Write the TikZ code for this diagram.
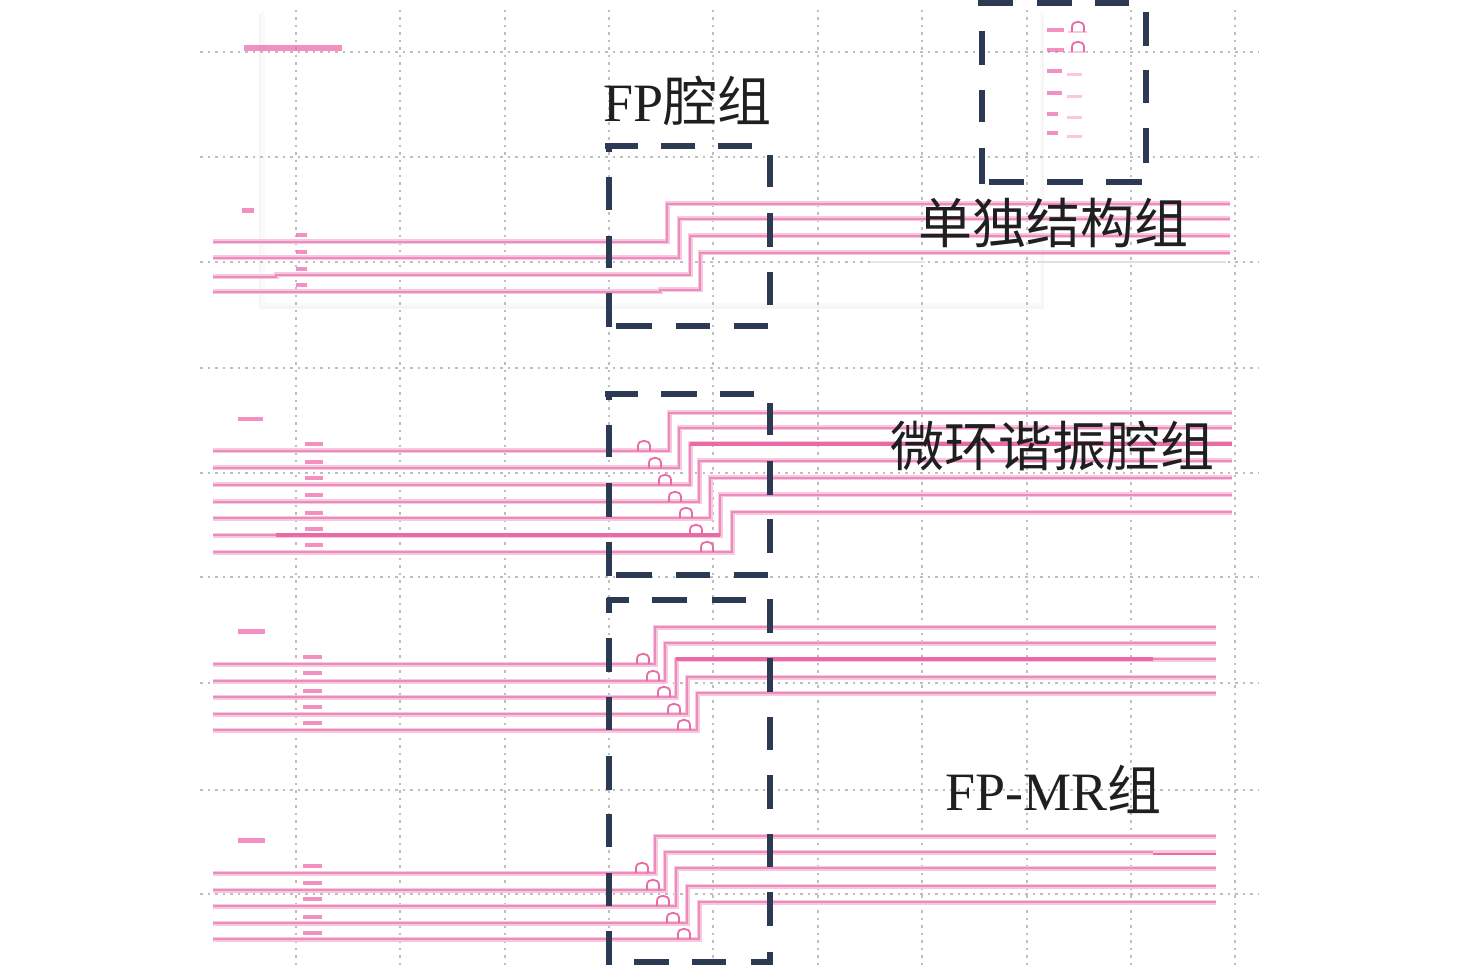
\documentclass[tikz,border=0pt]{standalone}
\usepackage{fontspec}
\setmainfont{Liberation Serif}
\newfontfamily\cjk{Noto Sans CJK SC}
\definecolor{pinkcore}{RGB}{236,140,188}
\definecolor{pinkhalo}{RGB}{248,200,222}
\definecolor{pinkdark}{RGB}{232,106,166}
\definecolor{pinklab}{RGB}{238,96,168}
\definecolor{navy}{RGB}{44,58,84}
\definecolor{gridc}{RGB}{190,190,190}
\tikzset{
  wg/.style={draw=pinkcore, line width=2.8pt, preaction={draw=pinkhalo, line width=5pt}},
  wgdark/.style={draw=pinkdark, line width=3.2pt},
  ringmark/.style={draw=pinkdark, line width=1.8pt},
  dbox/.style={draw=navy, line width=5.6pt, line cap=butt},
  gridline/.style={draw=gridc, line width=1.5pt, dash pattern=on 2.5pt off 5pt},
  tinylab/.style={fill=pinklab, opacity=0.7},
  lab/.style={font=\fontsize{54}{60}\selectfont, inner sep=0pt, text=black!88}
}
\newcommand{\ringarch}[2]{%
  \draw[ringmark] (#1-6,#2) -- (#1-6,#2-5) .. controls (#1-6,#2-12) and (#1+6,#2-12) .. (#1+6,#2-5) -- (#1+6,#2);}
\begin{document}
\begin{tikzpicture}[x=1pt,y=-1pt]
\useasboundingbox (0,0) rectangle (1476,965);
\fill[white] (0,0) rectangle (1476,965);
% panel with faint shadow
\fill[black!4] (259,14) rectangle (1044,309);
\fill[black!2] (261,12) rectangle (1042,306);
\fill[white] (265,10) rectangle (1040,303);
% grid
\foreach \gy in {52,157,262,368,473,577,683,790,894}
  \draw[gridline] (200,\gy) -- (1258,\gy);
\foreach \gx in {296,400,505,609,713,818,922,1027,1131,1235}
  \draw[gridline] (\gx,10) -- (\gx,965);
% faint selection line
\draw[black!12, line width=1.5pt] (1037,262) -- (1226,262);
\draw[black!10, line width=1.5pt] (870,262) -- (925,262);

% tiny labels
\fill[tinylab] (244,45) rectangle (342,51);
\fill[tinylab] (242,208) rectangle (254,213);
\foreach \ly in {235,252,269,285} \fill[tinylab] (296,\ly-2) rectangle (307,\ly+2);
\fill[tinylab] (238,417) rectangle (263,421);
\foreach \ly in {444,462,478,495,513,529,545} \fill[tinylab] (305,\ly-2) rectangle (323,\ly+2);
\fill[tinylab] (238,629) rectangle (265,634);
\foreach \ly in {657,673,691,707,723} \fill[tinylab] (303,\ly-2) rectangle (322,\ly+2);
\fill[tinylab] (238,838) rectangle (265,843);
\foreach \ly in {866,883,899,917,933} \fill[tinylab] (303,\ly-2) rectangle (322,\ly+2);
% top-right legend
\foreach \ly in {30,50} {
  \fill[tinylab] (1047,\ly-2) rectangle (1064,\ly+2);
  \draw[pinkhalo, line width=2.5pt] (1068,\ly+2) -- (1087,\ly+2);
  \ringarch{1078}{\ly+2}
}
\foreach \ly/\lw in {71/15,93/15,114/11,133/11} {
  \fill[tinylab] (1047,\ly-2) rectangle (1047+\lw,\ly+2);
  \draw[pinkhalo, line width=3pt] (1067,\ly+4) -- (1082,\ly+4);
}

% ---- group 1: FP
\draw[wg] (213,242) -- (667,242) -- (667,204) -- (1230,204);
\draw[wg] (213,258) -- (679,258) -- (679,219) -- (1230,219);
\draw[wg] (213,277) -- (276,277) -- (276,275) -- (690,275) -- (690,236) -- (1230,236);
\draw[wg] (213,292) -- (660,292) -- (660,290) -- (700,290) -- (700,253) -- (1230,253);

% ---- group 2: Ring
\foreach \yl/\xs/\yr/\xr in {451/669/413/644, 468/679/428/655, 485/690/444/665, 502/699/461/675, 518/710/478/686, 535/720/495/696, 552/732/512/707} {
  \draw[wg] (213,\yl) -- (\xs,\yl) -- (\xs,\yr) -- (1232,\yr);
  \ringarch{\xr}{\yl}
}
\draw[wgdark] (276,535) -- (720,535);
\draw[wgdark] (690,444) -- (1232,444);

% ---- group 3: TRLB
\foreach \yl/\xs/\yr/\xr in {664/655/627/643, 681/665/643/653, 697/676/659/664, 714/687/677/674, 730/697/693/684} {
  \draw[wg] (213,\yl) -- (\xs,\yl) -- (\xs,\yr) -- (1216,\yr);
  \ringarch{\xr}{\yl}
}
\draw[wgdark] (676,659) -- (1153,659);

% ---- group 4: FP-MR
\foreach \yl/\xs/\yr/\xr in {873/655/836/642, 890/665/852/653, 906/676/868/663, 923/687/886/673, 939/699/902/684} {
  \draw[wg] (213,\yl) -- (\xs,\yl) -- (\xs,\yr) -- (1216,\yr);
  \ringarch{\xr}{\yl}
}
\draw[pinkhalo, line width=3pt] (1153,852) -- (1216,852);
\draw[pinkdark, line width=2.4pt] (1153,854) -- (1216,854);

% ---- dashed boxes
% box 1
\foreach \a/\b in {605/638,661/695,718/752} \draw[dbox] (\a,146) -- (\b,146);
\foreach \a/\b in {144/152,177/210,236/268,293/327} \draw[dbox] (609,\a) -- (609,\b);
\foreach \a/\b in {155/187,213/247,272/305} \draw[dbox] (770,\a) -- (770,\b);
\foreach \a/\b in {616/652,676/710,734/768} \draw[dbox] (\a,326) -- (\b,326);
% box 2
\foreach \a/\b in {605/638,661/697,720/754} \draw[dbox] (\a,394) -- (\b,394);
\foreach \a/\b in {392/400,425/457,483/517,542/576} \draw[dbox] (609,\a) -- (609,\b);
\foreach \a/\b in {403/435,461/495,519/553} \draw[dbox] (770,\a) -- (770,\b);
\foreach \a/\b in {616/652,676/710,734/768} \draw[dbox] (\a,575) -- (\b,575);
% box 3
\foreach \a/\b in {607/629,652/687,712/746} \draw[dbox] (\a,600) -- (\b,600);
\foreach \a/\b in {598/613,638/672,697/730,756/790,814/847,873/906,931/967} \draw[dbox] (609,\a) -- (609,\b);
\foreach \a/\b in {599/633,658/692,717/750,775/809,834/867,892/926,952/967} \draw[dbox] (770,\a) -- (770,\b);
\foreach \a/\b in {634/669,692/726,751/772} \draw[dbox] (\a,962) -- (\b,962);
% box 4 (top right)
\foreach \a/\b in {978/1013,1037/1072,1095/1129} \draw[dbox] (\a,3) -- (\b,3);
\foreach \a/\b in {31/65,90/122,148/184} \draw[dbox] (982,\a) -- (982,\b);
\foreach \a/\b in {12/46,70/103,128/163} \draw[dbox] (1146,\a) -- (1146,\b);
\foreach \a/\b in {989/1024,1047/1083,1106/1142} \draw[dbox] (\a,182) -- (\b,182);

% ---- titles
\node[lab, anchor=base west] (fp) at (603,122) {FP{\cjk 腔组}};
\node[lab, anchor=base west] (single) at (918,244) {\cjk 单独结构组};
\node[lab, anchor=base west] (ring) at (890,467) {\cjk 微环谐振腔组};
\node[lab, anchor=base west] (fpmr) at (945,810) {FP-MR{\cjk 组}};
\end{tikzpicture}
\end{document}
